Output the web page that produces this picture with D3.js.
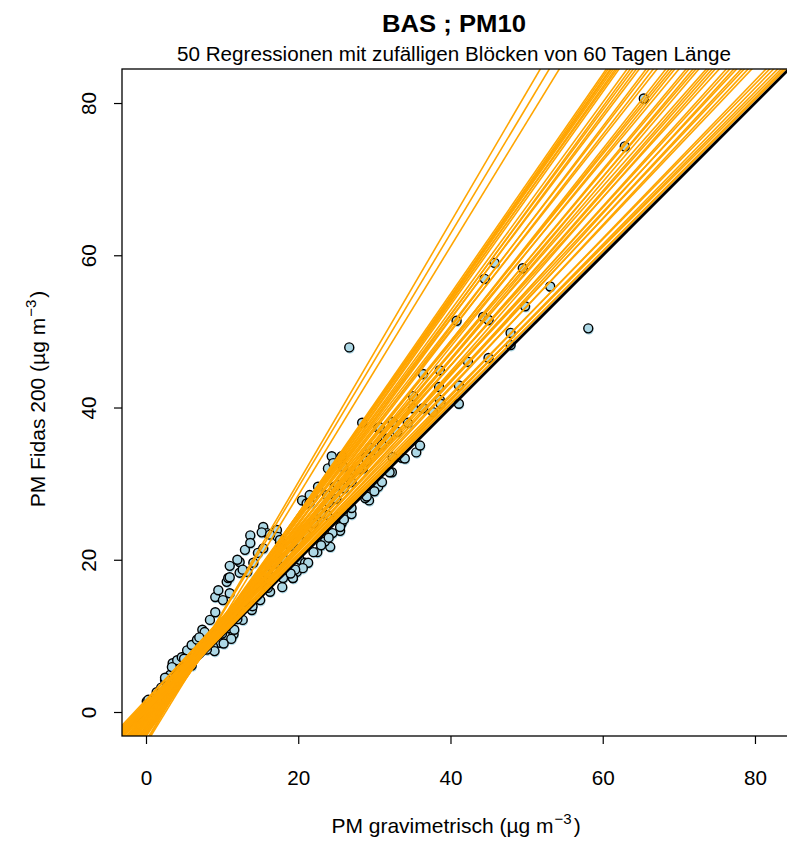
<!DOCTYPE html>
<html><head><meta charset="utf-8">
<script src="https://cdn.jsdelivr.net/npm/d3@7"></script>
<style>body{margin:0;background:#fff} text{font-family:"Liberation Sans",Arial,Helvetica,sans-serif;fill:#000}</style>
</head><body><svg id="c" width="787" height="842"></svg>
<script>
// ---- data ----
const xTicks = [0, 20, 40, 60, 80];
const yTicks = [0, 20, 40, 60, 80];
const titleText = "BAS ; PM10";
const subtitleText = "50 Regressionen mit zufälligen Blöcken von 60 Tagen Länge";

// scatter: PM gravimetrisch (x) vs PM Fidas 200 (y)
const gravX = [0.1,1.4,2.0,2.5,3.2,3.8,4.5,4.9,3.5,4.1,4.7,5.4,6.0,6.7,7.4,7.7,8.4,9.1,9.1,10.1,11.0,9.5,10.6,10.8,11.0,12.3,11.0,12.3,13.3,14.1,13.0,
  9.1,9.7,11.5,11.2,10.2,8.8,9.0,11.0,11.4,12.0,17.9,16.3,15.0,13.9,12.7,11.6,19.8,19.3,0.3,2.5,3.4,5.0,7.0,
  13.7,15.4,15.9,17.2,17.3,17.6,13.7,14.7,15.4,15.2,16.3,17.6,12.0,12.7,
  20.2,20.9,21.3,20.6,19.6,19.3,25.7,25.5,26.4,22.5,25.2,24.2,23.8,25.5,
  20.5,21.1,21.9,23.8,22.6,24.8,25.2,21.5,21.5,30.5,29.3,
  26.7,24.4,23.9,24.6,25.7,25.9,27.4,28.5,28.9,29.4,31.5,31.8,32.4,32.3,28.4,30.5,32.4,28.8,33.6,30.0,27.0,22.5,23.5,24.5,
  26.7,35.5,34.4,35.1,36.4,35.1,36.4,38.6,37.7,38.6,38.7,41.1,41.1,38.5,30.7,
  42.3,45.0,47.9,47.9,40.8,44.3,45.0,58.1,49.8,53.1,44.5,49.5,45.8,62.9,65.4,
  2.0,3.0,4.0,5.0,6.0,7.0,8.0,9.0,10.0,11.0,12.0,13.0,14.0,15.0,16.0,17.0,18.0,19.0,20.0,21.0,22.0,23.0,24.0,25.0,26.0,27.0,28.0,29.0,30.0,31.0,33.0,
  6.0,8.0,10.0,12.0,14.0,16.0,18.0,19.0,22.0,23.0,24.0,26.0,27.0,29.0,31.0,32.0,34.0,36.0];
const fidasY = [1.4,2.6,3.2,4.2,4.9,6.2,6.8,7.2,6.4,6.8,7.2,8.1,8.8,9.5,10.8,10.5,12.1,13.1,15.1,14.7,15.6,16.0,17.1,17.6,19.2,19.7,17.7,18.3,18.4,19.6,21.3,
  9.7,9.1,10.2,9.6,9.0,8.6,8.0,11.0,12.1,13.0,16.4,15.8,14.7,13.4,12.1,10.8,18.4,17.6,1.6,4.5,5.9,7.0,9.8,
  23.2,24.3,23.5,23.9,23.0,22.2,22.2,20.9,21.5,23.6,23.3,22.6,20.0,18.7,
  20.0,19.6,19.6,18.9,18.7,17.6,24.8,23.8,26.1,25.6,25.6,21.7,25.9,24.3,
  27.8,27.4,28.2,28.5,29.6,29.6,29.8,28.5,27.5,29.6,27.8,
  30.7,33.6,32.0,32.7,33.6,32.2,31.7,32.0,33.5,34.7,35.9,35.9,33.5,31.5,38.0,37.3,38.1,28.1,33.4,29.0,26.0,21.0,22.4,23.5,
  47.9,34.1,38.0,39.9,39.9,41.5,44.4,44.9,39.4,41.0,40.5,40.5,42.9,42.7,37.4,
  46.0,46.5,48.2,49.8,51.4,51.9,51.5,50.4,53.3,55.9,56.9,58.3,59.0,74.3,80.6,
  2.5,3.4,4.8,5.6,7.0,7.8,9.2,10.1,11.5,12.4,13.8,14.5,16.2,17.0,18.1,19.5,20.2,21.8,22.5,23.4,24.8,26.1,27.5,28.0,29.4,30.2,31.9,33.0,34.4,35.1,36.8,
  6.1,8.2,10.3,12.2,13.9,16.3,17.6,18.2,21.0,21.9,22.9,25.3,26.8,28.3,30.2,31.5,33.3,35.0];

// 50 block regressions (intercept, slope)
const regIntercept = [-4.0,-3.8,-4.2,-2.8,-3.2,-2.5,-3.0,-2.2,-2.9,-1.8,-2.6,-2.0,-2.7,-1.5,-2.3,-1.2,-2.4,-1.0,-1.9,-0.6,
  -2.0,-1.3,-0.4,-1.6,0.3,-1.1,-0.2,-1.4,0.6,-0.8,1.0,-0.5,0.2,-1.0,1.4,-0.3,0.8,-0.7,1.6,0.1,
  1.1,-0.4,0.5,0.0,0.9,-0.2,0.4,1.2,0.2,0.6];
const regSlope = [1.708,1.666,1.633,1.443,1.444,1.426,1.431,1.412,1.417,1.394,1.401,1.368,1.370,1.343,1.347,1.322,1.322,1.293,1.296,1.267,
  1.266,1.248,1.228,1.239,1.202,1.206,1.187,1.195,1.161,1.174,1.134,1.149,1.133,1.143,1.103,1.112,1.091,1.103,1.068,1.079,
  1.061,1.073,1.055,1.037,1.020,1.027,1.013,0.998,1.006,0.998];
// reference 1:1 line
const refIntercept = [0];
const refSlope = [1];

// ---- drawing ----
const svg = d3.select("#c");
const L = 122, T = 69, R = 789, B = 736;
const x = d3.scaleLinear().domain([-3.153, 84.47]).range([L, R]);
const y = d3.scaleLinear().domain([-3.153, 84.47]).range([B, T]);

svg.append("defs").append("clipPath").attr("id","clip")
  .append("rect").attr("x",L).attr("y",T).attr("width",R-L).attr("height",B-T);

const g = svg.append("g").attr("clip-path","url(#clip)");
const pts = d3.range(gravX.length).map(i => ({x: gravX[i], y: fidasY[i]}));

// points: light-blue shadow, then outlined circle
g.append("g").selectAll("circle").data(pts).join("circle")
  .attr("cx", d => x(d.x) + 0.6).attr("cy", d => y(d.y) + 1.5).attr("r", 4.8)
  .attr("fill", "#add8e6");
g.append("g").selectAll("circle").data(pts).join("circle")
  .attr("cx", d => x(d.x)).attr("cy", d => y(d.y)).attr("r", 4.5)
  .attr("fill", "#add8e6").attr("stroke", "#000").attr("stroke-width", 1.4);

const xd = x.domain();
// reference line
g.append("g").selectAll("line").data(refSlope.map((s,i)=>({a:refIntercept[i], b:s}))).join("line")
  .attr("x1", x(xd[0])).attr("x2", x(xd[1]))
  .attr("y1", d => y(d.a + d.b*xd[0])).attr("y2", d => y(d.a + d.b*xd[1]))
  .attr("stroke", "#000").attr("stroke-width", 3);
// regression lines
g.append("g").selectAll("line").data(regSlope.map((s,i)=>({a:regIntercept[i], b:s}))).join("line")
  .attr("x1", x(xd[0])).attr("x2", x(xd[1]))
  .attr("y1", d => y(d.a + d.b*xd[0])).attr("y2", d => y(d.a + d.b*xd[1]))
  .attr("stroke", "#FFA500").attr("stroke-width", 1.6);

// box
svg.append("rect").attr("x",L).attr("y",T).attr("width",R-L).attr("height",B-T)
  .attr("fill","none").attr("stroke","#000").attr("stroke-width",1.3);

// axes
const xAxis = svg.append("g").attr("transform",`translate(0,${B})`)
  .call(d3.axisBottom(x).tickValues(xTicks).tickSize(8).tickFormat(d3.format("d")));
xAxis.select(".domain").remove();
xAxis.selectAll("line").attr("stroke","#000").attr("stroke-width",1.2);
xAxis.selectAll("text").attr("font-size",21).attr("dy",null).attr("y",49)
  .attr("font-family","Liberation Sans, Arial, sans-serif")
  .attr("textLength", d => String(d).length*11.5).attr("lengthAdjust","spacingAndGlyphs");

const yAxis = svg.append("g").attr("transform",`translate(${L},0)`)
  .call(d3.axisLeft(y).tickValues(yTicks).tickSize(8).tickFormat(d3.format("d")));
yAxis.select(".domain").remove();
yAxis.selectAll("line").attr("stroke","#000").attr("stroke-width",1.2);
yAxis.selectAll("text").attr("font-size",21).attr("x",null).attr("dy",null)
  .attr("font-family","Liberation Sans, Arial, sans-serif")
  .attr("text-anchor","middle")
  .attr("transform","translate(-26,0) rotate(-90)")
  .attr("textLength", d => String(d).length*11.5).attr("lengthAdjust","spacingAndGlyphs");

// titles
svg.append("text").attr("x",454).attr("y",32).attr("text-anchor","middle")
  .attr("font-size",24).attr("font-weight","bold")
  .attr("textLength",144).attr("lengthAdjust","spacingAndGlyphs").text(titleText);
svg.append("text").attr("x",454).attr("y",61).attr("text-anchor","middle")
  .attr("font-size",20).attr("textLength",554).attr("lengthAdjust","spacingAndGlyphs").text(subtitleText);

// axis labels with superscript
function unitLabel(sel, main){
  sel.append("tspan").text(main + " (\u00b5g m");
  sel.append("tspan").attr("dy",-9).attr("dx",1).attr("font-size",15).text("\u22123");
  sel.append("tspan").attr("dy",9).attr("dx",2).text(")");
}
const xl = svg.append("text").attr("x",456).attr("y",833).attr("text-anchor","middle").attr("font-size",21);
unitLabel(xl, "PM gravimetrisch");
const yl = svg.append("text").attr("transform","translate(45,399) rotate(-90)").attr("text-anchor","middle").attr("font-size",21);
unitLabel(yl, "PM Fidas 200");
</script></body></html>
